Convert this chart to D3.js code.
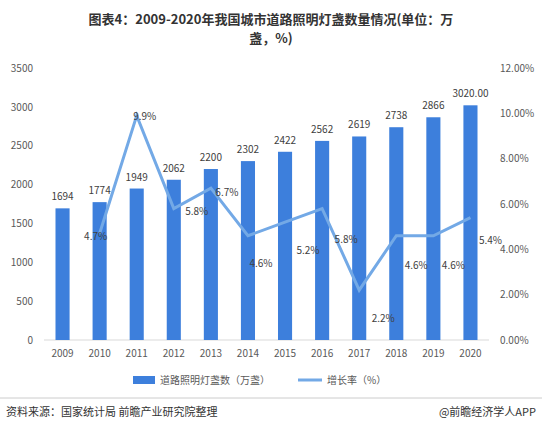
<!DOCTYPE html><html><head><meta charset="utf-8"><script src="https://cdn.jsdelivr.net/npm/d3@7"></script>
<style>body{margin:0;background:#fff}text{font-family:"Noto Sans CJK SC","Noto Sans",sans-serif}</style></head><body>
<svg id="c" width="542" height="433"></svg>
<script>
const years=["2009","2010","2011","2012","2013","2014","2015","2016","2017","2018","2019","2020"];
const counts=[1694,1774,1949,2062,2200,2302,2422,2562,2619,2738,2866,3020];
const countLabels=["1694","1774","1949","2062","2200","2302","2422","2562","2619","2738","2866","3020.00"];
const growth=[null,4.7,9.9,5.8,6.7,4.6,5.2,5.8,2.2,4.6,4.6,5.4];
const leftTicks=[0,500,1000,1500,2000,2500,3000,3500];
const rightTicks=[0,2,4,6,8,10,12];
const svg=d3.select("#c");
const x=d3.scaleBand().domain(years).range([44,489]).paddingInner(0.62).paddingOuter(0.31);
const y=d3.scaleLinear().domain([0,3500]).range([340,68]);
const y2=d3.scaleLinear().domain([0,12]).range([340,68]);
svg.append("text").attr("x",271).attr("y",24).attr("text-anchor","middle").attr("font-size",13).attr("font-weight","bold").attr("fill","#333").text("图表4：2009-2020年我国城市道路照明灯盏数量情况(单位：万");
svg.append("text").attr("x",271).attr("y",43).attr("text-anchor","middle").attr("font-size",13).attr("font-weight","bold").attr("fill","#333").text("盏，%)");
const la=svg.append("g").attr("transform","translate(36,0)").call(d3.axisLeft(y).tickValues(leftTicks).tickSize(0).tickFormat(d3.format("d")));
la.select(".domain").remove();la.selectAll("text").attr("font-size",10).attr("fill","#595959");
const ra=svg.append("g").attr("transform","translate(497,0)").call(d3.axisRight(y2).tickValues(rightTicks).tickSize(0).tickFormat(d=>d.toFixed(2)+"%"));
ra.select(".domain").remove();ra.selectAll("text").attr("font-size",10).attr("fill","#595959");
svg.append("line").attr("x1",44).attr("x2",489).attr("y1",340).attr("y2",340).attr("stroke","#d9d9d9");
const xa=svg.append("g").attr("transform","translate(0,340)").call(d3.axisBottom(x).tickSize(0).tickPadding(10));
xa.select(".domain").remove();xa.selectAll("text").attr("font-size",10).attr("fill","#595959");
svg.selectAll("rect.b").data(counts).join("rect").attr("x",(d,i)=>x(years[i])).attr("width",x.bandwidth()).attr("y",d=>y(d)).attr("height",d=>340-y(d)).attr("fill","#3d7fdc");
svg.selectAll("text.bl").data(counts).join("text").attr("x",(d,i)=>x(years[i])+x.bandwidth()/2).attr("y",d=>y(d)-8).attr("text-anchor","middle").attr("font-size",10).attr("fill","#404040").text((d,i)=>countLabels[i]);
const pts=growth.map((g,i)=>[g,i]).filter(p=>p[0]!=null);
const cx=i=>x(years[i])+x.bandwidth()/2;
svg.append("path").attr("d",d3.line().x(p=>cx(p[1])).y(p=>y2(p[0]))(pts)).attr("fill","none").attr("stroke","#73a9e6").attr("stroke-width",3);
const off={1:[-4,3],2:[8,0],3:[23,2],4:[16,4],5:[13,27],6:[23,28],7:[24,30],8:[24,28],9:[20,29],10:[20,29],11:[20,22]};
svg.selectAll("text.gl").data(pts).join("text").attr("x",p=>cx(p[1])+off[p[1]][0]).attr("y",p=>y2(p[0])+off[p[1]][1]+4).attr("text-anchor","middle").attr("font-size",10).attr("fill","#404040").text(p=>p[0].toFixed(1)+"%");
svg.append("rect").attr("x",133).attr("y",376).attr("width",22).attr("height",8).attr("fill","#3d7fdc");
svg.append("text").attr("x",160).attr("y",384).attr("font-size",10).attr("fill","#595959").text("道路照明灯盏数（万盏）");
svg.append("line").attr("x1",298).attr("x2",322).attr("y1",380).attr("y2",380).attr("stroke","#73a9e6").attr("stroke-width",3);
svg.append("text").attr("x",327).attr("y",384).attr("font-size",10).attr("fill","#595959").text("增长率（%）");
svg.append("line").attr("x1",0).attr("x2",542).attr("y1",398).attr("y2",398).attr("stroke","#ccc");
svg.append("text").attr("x",6).attr("y",416).attr("font-size",11).attr("fill","#333").text("资料来源：国家统计局 前瞻产业研究院整理");
svg.append("text").attr("x",536).attr("y",416).attr("text-anchor","end").attr("font-size",11).attr("fill","#333").text("@前瞻经济学人APP");
</script></body></html>
